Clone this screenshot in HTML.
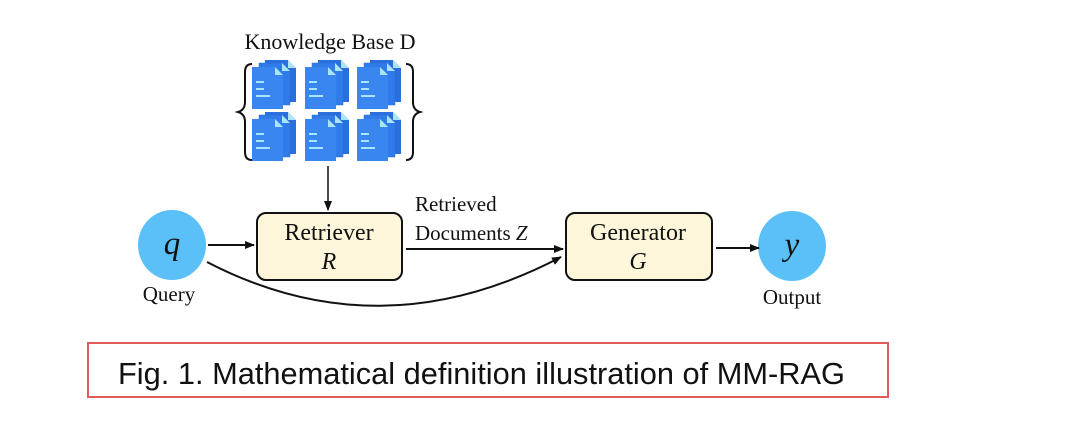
<!DOCTYPE html>
<html><head><meta charset="utf-8"><style>
html,body{margin:0;padding:0;background:#fff;}
svg{display:block;}
.s{font-family:"Liberation Serif",serif;fill:#111;}
</style></head><body>
<svg width="1080" height="422" viewBox="0 0 1080 422" xmlns="http://www.w3.org/2000/svg">
<defs>
<marker id="ah" markerWidth="10" markerHeight="8" refX="9" refY="4" orient="auto" markerUnits="userSpaceOnUse">
<path d="M0,0 L10,4 L0,8 Z" fill="#111"/></marker>
<g id="doc">
 <path d="M13,1 h23 l8,8 v34 h-31 z" fill="#2a6fdc"/>
 <path d="M7,4 h23 l8,8 v34 h-31 z" fill="#2f7bea" stroke="#2a6fdc" stroke-width="0.5"/>
 <path d="M0,8 h23 l8,8 v34 h-31 z" fill="#3a86f0"/>
 <path d="M23,8 l8,8 h-8 z" fill="#a9e4f7"/>
 <path d="M30,4 l8,8 h-8 z" fill="#a9e4f7"/>
 <path d="M36,1 l8,8 h-8 z" fill="#a9e4f7"/>
 <rect x="4" y="22" width="8" height="2" fill="#a9e4f7"/>
 <rect x="4" y="29" width="8" height="2" fill="#a9e4f7"/>
 <rect x="4" y="36" width="14" height="2" fill="#a9e4f7"/>
</g>
</defs>
<text class="s" x="330" y="49" font-size="22" text-anchor="middle">Knowledge Base D</text>
<path d="M252,64 q-7,0 -7,8 v30 q0,8 -7,10 q7,2 7,10 v30 q0,8 7,8" fill="none" stroke="#111" stroke-width="2"/>
<path d="M406,64 q7,0 7,8 v30 q0,8 7,10 q-7,2 -7,10 v30 q0,8 -7,8" fill="none" stroke="#111" stroke-width="2"/>
<use href="#doc" x="252" y="59"/><use href="#doc" x="305" y="59"/><use href="#doc" x="357" y="59"/>
<use href="#doc" x="252" y="111"/><use href="#doc" x="305" y="111"/><use href="#doc" x="357" y="111"/>
<line x1="328" y1="166" x2="328" y2="210" stroke="#111" stroke-width="1.5" marker-end="url(#ah)"/>
<rect x="257" y="213" width="145" height="67" rx="9" fill="#fdf6da" stroke="#111" stroke-width="2"/>
<text class="s" x="329" y="240" font-size="24" text-anchor="middle">Retriever</text>
<text class="s" x="329" y="269" font-size="24" font-style="italic" text-anchor="middle">R</text>
<rect x="566" y="213" width="146" height="67" rx="9" fill="#fdf6da" stroke="#111" stroke-width="2"/>
<text class="s" x="638" y="240" font-size="24" text-anchor="middle">Generator</text>
<text class="s" x="638" y="269" font-size="24" font-style="italic" text-anchor="middle">G</text>
<ellipse cx="172" cy="245" rx="34" ry="35" fill="#5bbff8"/>
<text class="s" x="172" y="254" font-size="33" font-style="italic" text-anchor="middle">q</text>
<text class="s" x="169" y="301" font-size="21" text-anchor="middle">Query</text>
<ellipse cx="792" cy="246" rx="34" ry="35" fill="#5bbff8"/>
<text class="s" x="792" y="255" font-size="33" font-style="italic" text-anchor="middle">y</text>
<text class="s" x="792" y="304" font-size="21" text-anchor="middle">Output</text>
<line x1="208" y1="245" x2="254" y2="245" stroke="#111" stroke-width="2" marker-end="url(#ah)"/>
<line x1="406" y1="249" x2="563" y2="249" stroke="#111" stroke-width="2" marker-end="url(#ah)"/>
<line x1="716" y1="248" x2="759" y2="248" stroke="#111" stroke-width="2" marker-end="url(#ah)"/>
<path d="M207,262 Q380,352 561,257" fill="none" stroke="#111" stroke-width="2" marker-end="url(#ah)"/>
<text class="s" x="415" y="211" font-size="21">Retrieved</text>
<text class="s" x="415" y="240" font-size="21">Documents <tspan font-style="italic">Z</tspan></text>
<rect x="88" y="343" width="800" height="54" fill="none" stroke="#e35a5a" stroke-width="2"/>
<text x="118" y="384" font-family="Liberation Sans Narrow, Liberation Sans, sans-serif" font-size="31" fill="#111" textLength="727" lengthAdjust="spacingAndGlyphs">Fig. 1.  Mathematical definition illustration of MM-RAG</text>
</svg>
</body></html>
